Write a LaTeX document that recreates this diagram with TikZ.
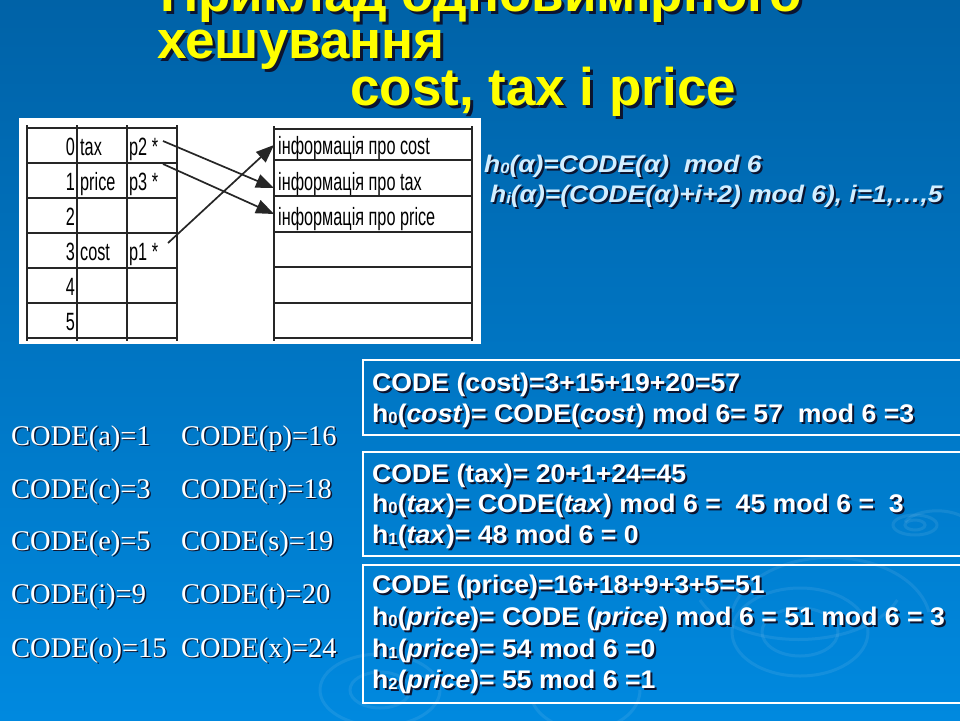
\documentclass[tikz,border=0pt]{standalone}
\usepackage{fontspec}
\setmainfont{Liberation Sans}
\newfontfamily\titlefont{Liberation Sans}
\newfontfamily\cellfont[FakeStretch=0.65]{Liberation Sans}
\newfontfamily\boxfont[FakeStretch=1.045]{Liberation Sans}
\newfontfamily\formfont[FakeStretch=1.1]{Liberation Sans}
\newfontfamily\codefont{Liberation Serif}
\usetikzlibrary{arrows.meta}

\definecolor{bgtop}{HTML}{0062A7}
\definecolor{bgbot}{HTML}{0089DF}
\definecolor{titleyellow}{HTML}{FFFF00}
\definecolor{paleblue}{HTML}{D2EEFF}
\definecolor{textshadow}{HTML}{0B1430}
\definecolor{gridline}{HTML}{262626}

% small subscript digit used in h0, h1, h2
\newcommand{\lowsub}[2]{\raisebox{-1pt}{\fontsize{#1}{#1}\selectfont #2}}

% text with a drop shadow: name, x, y, style, offset, text
\newcommand{\shtext}[6]{%
  \node[#4, text=textshadow, xshift=#5pt, yshift=-#5pt] at (#2,#3) {#6};
  \node[#4] (#1) at (#2,#3) {#6};}

\tikzset{
  titlestyle/.style={font=\titlefont\bfseries\fontsize{53}{53}\selectfont,
    text=titleyellow, inner sep=0pt, anchor=base west},
  cell/.style={font=\cellfont\fontsize{25}{25}\selectfont, text=black,
    inner sep=0pt},
  grid/.style={draw=gridline, line width=1.6pt},
  ptr/.style={draw=gridline, line width=1.7pt,
    -{Triangle[length=18pt,width=14pt]}},
  formula/.style={font=\formfont\bfseries\itshape\fontsize{24}{24}\selectfont,
    text=paleblue, inner sep=0pt, anchor=base west},
  boxtext/.style={font=\boxfont\bfseries\fontsize{25.5}{25.5}\selectfont,
    text=white, inner sep=0pt, anchor=base west},
  codetext/.style={font=\codefont\fontsize{28.5}{28.5}\selectfont,
    text=white, inner sep=0pt, anchor=base west},
  framebox/.style={draw=white, line width=1.4pt},
  ripple/.style={draw=white, draw opacity=0.08, line width=3pt}
}

\begin{document}
\begin{tikzpicture}[x=1pt, y=-1pt]
\useasboundingbox (0,0) rectangle (960,720);

% background
\shade[top color=bgtop, bottom color=bgbot] (0,0) rectangle (960,720);

% ripples
\draw[ripple] (915,525) ellipse (10 and 5);
\draw[ripple] (915,525) ellipse (22 and 10);
\draw[ripple] (905,522) arc[start angle=200, end angle=330, x radius=34, y radius=17];
\draw[ripple] (800,632) ellipse (38 and 24);
\draw[ripple] (800,632) ellipse (68 and 44);
\draw[ripple] (732,612) arc[start angle=190, end angle=350, x radius=100, y radius=66];
\draw[ripple] (700,600) arc[start angle=160, end angle=20, x radius=105, y radius=60];
\draw[ripple] (380,690) ellipse (30 and 18);
\draw[ripple] (380,690) ellipse (60 and 36);
\draw[ripple] (640,690) arc[start angle=0, end angle=160, x radius=55, y radius=40];

% title
\shtext{title1}{160}{11}{titlestyle}{3}{Приклад одновимірного}
\shtext{title2}{157}{58}{titlestyle}{3}{хешування}
\shtext{title3}{350}{105}{titlestyle}{3}{cost, tax i price}

% white panel with the hash table and the data area
\fill[white] (19,118) rectangle (481,344);

% hash table grid
\foreach \y in {128,163,198,233,268,303,338}
  \draw[grid] (27,\y) -- (177,\y);
\foreach \x in {27,77,127,177}
  \draw[grid] (\x,125) -- (\x,341);

% hash table cells
\node[cell, anchor=base east] (d0) at (75,155) {0};
\node[cell, anchor=base east] (d1) at (75,190) {1};
\node[cell, anchor=base east] (d2) at (75,225) {2};
\node[cell, anchor=base east] (d3) at (75,260) {3};
\node[cell, anchor=base east] (d4) at (75,295) {4};
\node[cell, anchor=base east] (d5) at (75,330) {5};
\node[cell, anchor=base west] (ktax) at (80,155) {tax};
\node[cell, anchor=base west] (kprice) at (80,190) {price};
\node[cell, anchor=base west] (kcost) at (80,260) {cost};
\node[cell, anchor=base west] (p2) at (129,155) {p2 *};
\node[cell, anchor=base west] (p3) at (129,190) {p3 *};
\node[cell, anchor=base west] (p1) at (129,260) {p1 *};

% data area grid
\foreach \y in {129,160,196,232,267,303,338}
  \draw[grid] (274,\y) -- (472,\y);
\draw[grid] (274,126) -- (274,341);
\draw[grid] (472,126) -- (472,341);

\node[cell, anchor=base west] (icost) at (278,154) {інформація про cost};
\node[cell, anchor=base west] (itax) at (278,190) {інформація про tax};
\node[cell, anchor=base west] (iprice) at (278,225) {інформація про price};

% pointers
\coordinate (p2tail) at (163,141);
\coordinate (p3tail) at (163,164);
\coordinate (p1tail) at (168,243);
\coordinate (taxin) at (274,188);
\coordinate (pricein) at (274,214);
\coordinate (costin) at (274,145);
\draw[ptr] (p2tail) -- (taxin);
\draw[ptr] (p3tail) -- (pricein);
\draw[ptr] (p1tail) -- (costin);

% hash functions
\shtext{f0}{484}{172}{formula}{2}{h\lowsub{15}{0}(α)=CODE(α)\ \ mod 6}
\shtext{f1}{490}{202}{formula}{2}{h\lowsub{15}{i}(α)=(CODE(α)+i+2) mod 6), i=1,…,5}

% letter codes
\shtext{ca}{11}{445}{codetext}{1.5}{CODE(a)=1}
\shtext{cc}{11}{498}{codetext}{1.5}{CODE(c)=3}
\shtext{ce}{11}{550}{codetext}{1.5}{CODE(e)=5}
\shtext{ci}{11}{603}{codetext}{1.5}{CODE(i)=9}
\shtext{co}{11}{657}{codetext}{1.5}{CODE(o)=15}
\shtext{cp}{181}{445}{codetext}{1.5}{CODE(p)=16}
\shtext{cr}{181}{498}{codetext}{1.5}{CODE(r)=18}
\shtext{cs}{181}{550}{codetext}{1.5}{CODE(s)=19}
\shtext{ct}{181}{603}{codetext}{1.5}{CODE(t)=20}
\shtext{cx}{181}{657}{codetext}{1.5}{CODE(x)=24}

% worked examples
\draw[framebox] (363,360) rectangle (975,435);
\draw[framebox] (363,452) rectangle (975,556);
\draw[framebox] (363,565) rectangle (975,703);

\shtext{b1a}{372}{391}{boxtext}{2}{CODE (cost)=3+15+19+20=57}
\shtext{b1b}{372}{422}{boxtext}{2}{h\lowsub{16}{0}(\textit{cost})= CODE(\textit{cost}) mod 6= 57\ \ mod 6 =3}

\shtext{b2a}{372}{482}{boxtext}{2}{CODE (tax)= 20+1+24=45}
\shtext{b2b}{372}{512}{boxtext}{2}{h\lowsub{16}{0}(\textit{tax})= CODE(\textit{tax}) mod 6 =\ \ 45 mod 6 =\ \ 3}
\shtext{b2c}{372}{543}{boxtext}{2}{h\lowsub{16}{1}(\textit{tax})= 48 mod 6 = 0}

\shtext{b3a}{372}{593}{boxtext}{2}{CODE (price)=16+18+9+3+5=51}
\shtext{b3b}{372}{625}{boxtext}{2}{h\lowsub{16}{0}(\textit{price})= CODE (\textit{price}) mod 6 = 51 mod 6 = 3}
\shtext{b3c}{372}{657}{boxtext}{2}{h\lowsub{16}{1}(\textit{price})= 54 mod 6 =0}
\shtext{b3d}{372}{688}{boxtext}{2}{h\lowsub{16}{2}(\textit{price})= 55 mod 6 =1}
\end{tikzpicture}
\end{document}
